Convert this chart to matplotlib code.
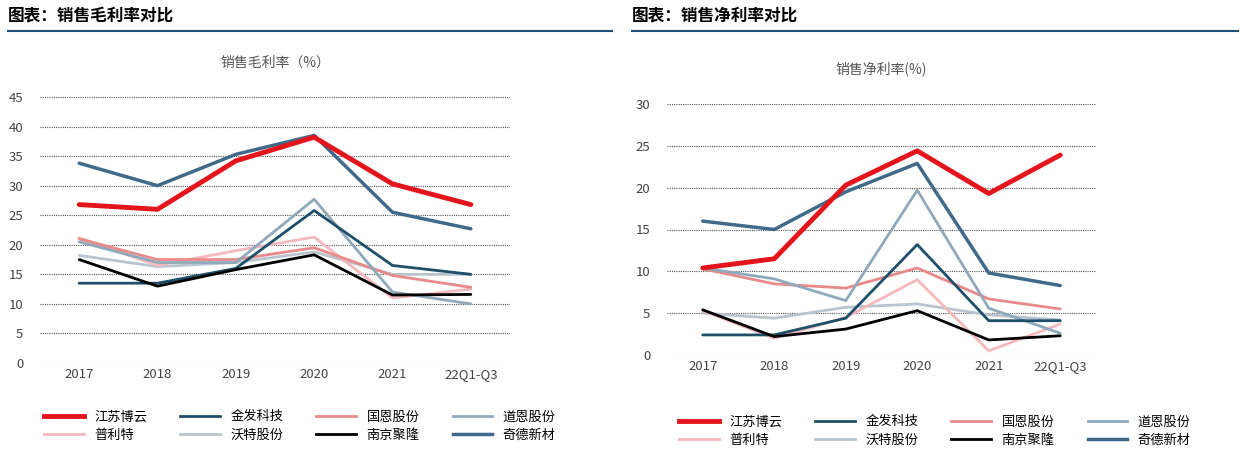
import matplotlib
matplotlib.use("Agg")
import matplotlib.pyplot as plt
from matplotlib.lines import Line2D

plt.rcParams['font.family'] = ['Noto Sans CJK SC', 'DejaVu Sans']

years = ["2017", "2018", "2019", "2020", "2021", "22Q1-Q3"]
names = ["江苏博云", "金发科技", "国恩股份", "道恩股份", "普利特", "沃特股份", "南京聚隆", "奇德新材"]
colors = ["#e3141b", "#1d4f6a", "#e88a8a", "#8fa9bb", "#f4b8bd", "#b9c4cf", "#000000", "#416a8a"]
widths = [3.5, 2, 2, 2, 2, 2, 2, 2.5]

gross = {
    "江苏博云": [26.8, 26.0, 34.2, 38.2, 30.3, 26.8],
    "金发科技": [13.5, 13.5, 16.0, 25.8, 16.5, 15.0],
    "国恩股份": [21.0, 17.5, 17.5, 19.5, 14.8, 12.8],
    "道恩股份": [20.5, 17.0, 17.0, 27.7, 12.0, 10.0],
    "普利特": [21.2, 16.5, 19.0, 21.3, 11.0, 12.5],
    "沃特股份": [18.2, 16.3, 17.0, 18.8, 15.0, 15.0],
    "南京聚隆": [17.5, 13.0, 15.8, 18.3, 11.5, 11.6],
    "奇德新材": [33.8, 30.0, 35.3, 38.5, 25.5, 22.7],
}
net = {
    "江苏博云": [10.4, 11.5, 20.3, 24.4, 19.3, 23.9],
    "金发科技": [2.4, 2.4, 4.4, 13.2, 4.1, 4.1],
    "国恩股份": [10.3, 8.5, 8.0, 10.4, 6.7, 5.5],
    "道恩股份": [10.4, 9.1, 6.5, 19.7, 5.6, 2.6],
    "普利特": [5.3, 2.0, 4.5, 9.0, 0.5, 3.7],
    "沃特股份": [5.0, 4.4, 5.7, 6.1, 4.8, 4.2],
    "南京聚隆": [5.4, 2.2, 3.1, 5.3, 1.8, 2.3],
    "奇德新材": [16.0, 15.0, 19.5, 22.9, 9.8, 8.3],
}

fig = plt.figure(figsize=(12.42, 4.63), dpi=100)
W, H = 1242, 463

def ax_at(x0, y0, x1, y1):
    return fig.add_axes([x0 / W, 1 - y1 / H, (x1 - x0) / W, (y1 - y0) / H])

def draw(ax, data, ymax, step, title):
    x = range(len(years))
    order = ["沃特股份", "普利特", "国恩股份", "道恩股份", "金发科技", "南京聚隆", "奇德新材", "江苏博云"]
    for n in order:
        i = names.index(n)
        ax.plot(x, data[n], color=colors[i], lw=widths[i], solid_capstyle='round')
    ax.set_ylim(0, ymax)
    ax.set_yticks(range(0, ymax + 1, step))
    ax.set_xlim(-0.5, 5.5)
    ax.set_xticks(list(x))
    ax.set_xticklabels(years)
    ax.grid(axis='y', ls=(0, (1, 1)), color='#555555', lw=0.8)
    ax.set_axisbelow(True)
    for s in ax.spines.values():
        s.set_visible(False)
    ax.tick_params(length=0, labelsize=9.5, colors='#444444')
    ax.tick_params(axis='y', pad=12)
    ax.set_title(title, fontsize=10, color='#555555', pad=22)

axL = ax_at(40, 97, 510, 363)
draw(axL, gross, 45, 5, "销售毛利率（%）")
axR = ax_at(667, 104, 1096, 355)
draw(axR, net, 30, 5, "销售净利率(%)")

for xx, t in [(8, "图表：销售毛利率对比"), (632, "图表：销售净利率对比")]:
    fig.text(xx / W, 1 - 16 / H, t, fontsize=12, fontweight='bold', va='center')
for x0, x1 in [(8, 612), (632, 1238)]:
    fig.add_artist(Line2D([x0 / W, x1 / W], [1 - 31 / H] * 2, color='#1f4e79', lw=1.5))

# matplotlib fills legend columns first; reorder so rows read like the reference
col_order = [0, 4, 1, 5, 2, 6, 3, 7]
handles = [Line2D([], [], color=colors[i], lw=widths[i]) for i in col_order]
labels = [names[i] for i in col_order]
for cx, cy in [(300, 426), (935, 431)]:
    fig.legend(handles, labels, ncol=4, loc='center', bbox_to_anchor=(cx / W, 1 - cy / H),
               frameon=False, fontsize=9.5, handlelength=3, columnspacing=2.5, labelspacing=0.4)

fig.savefig("out.png", dpi=100)
